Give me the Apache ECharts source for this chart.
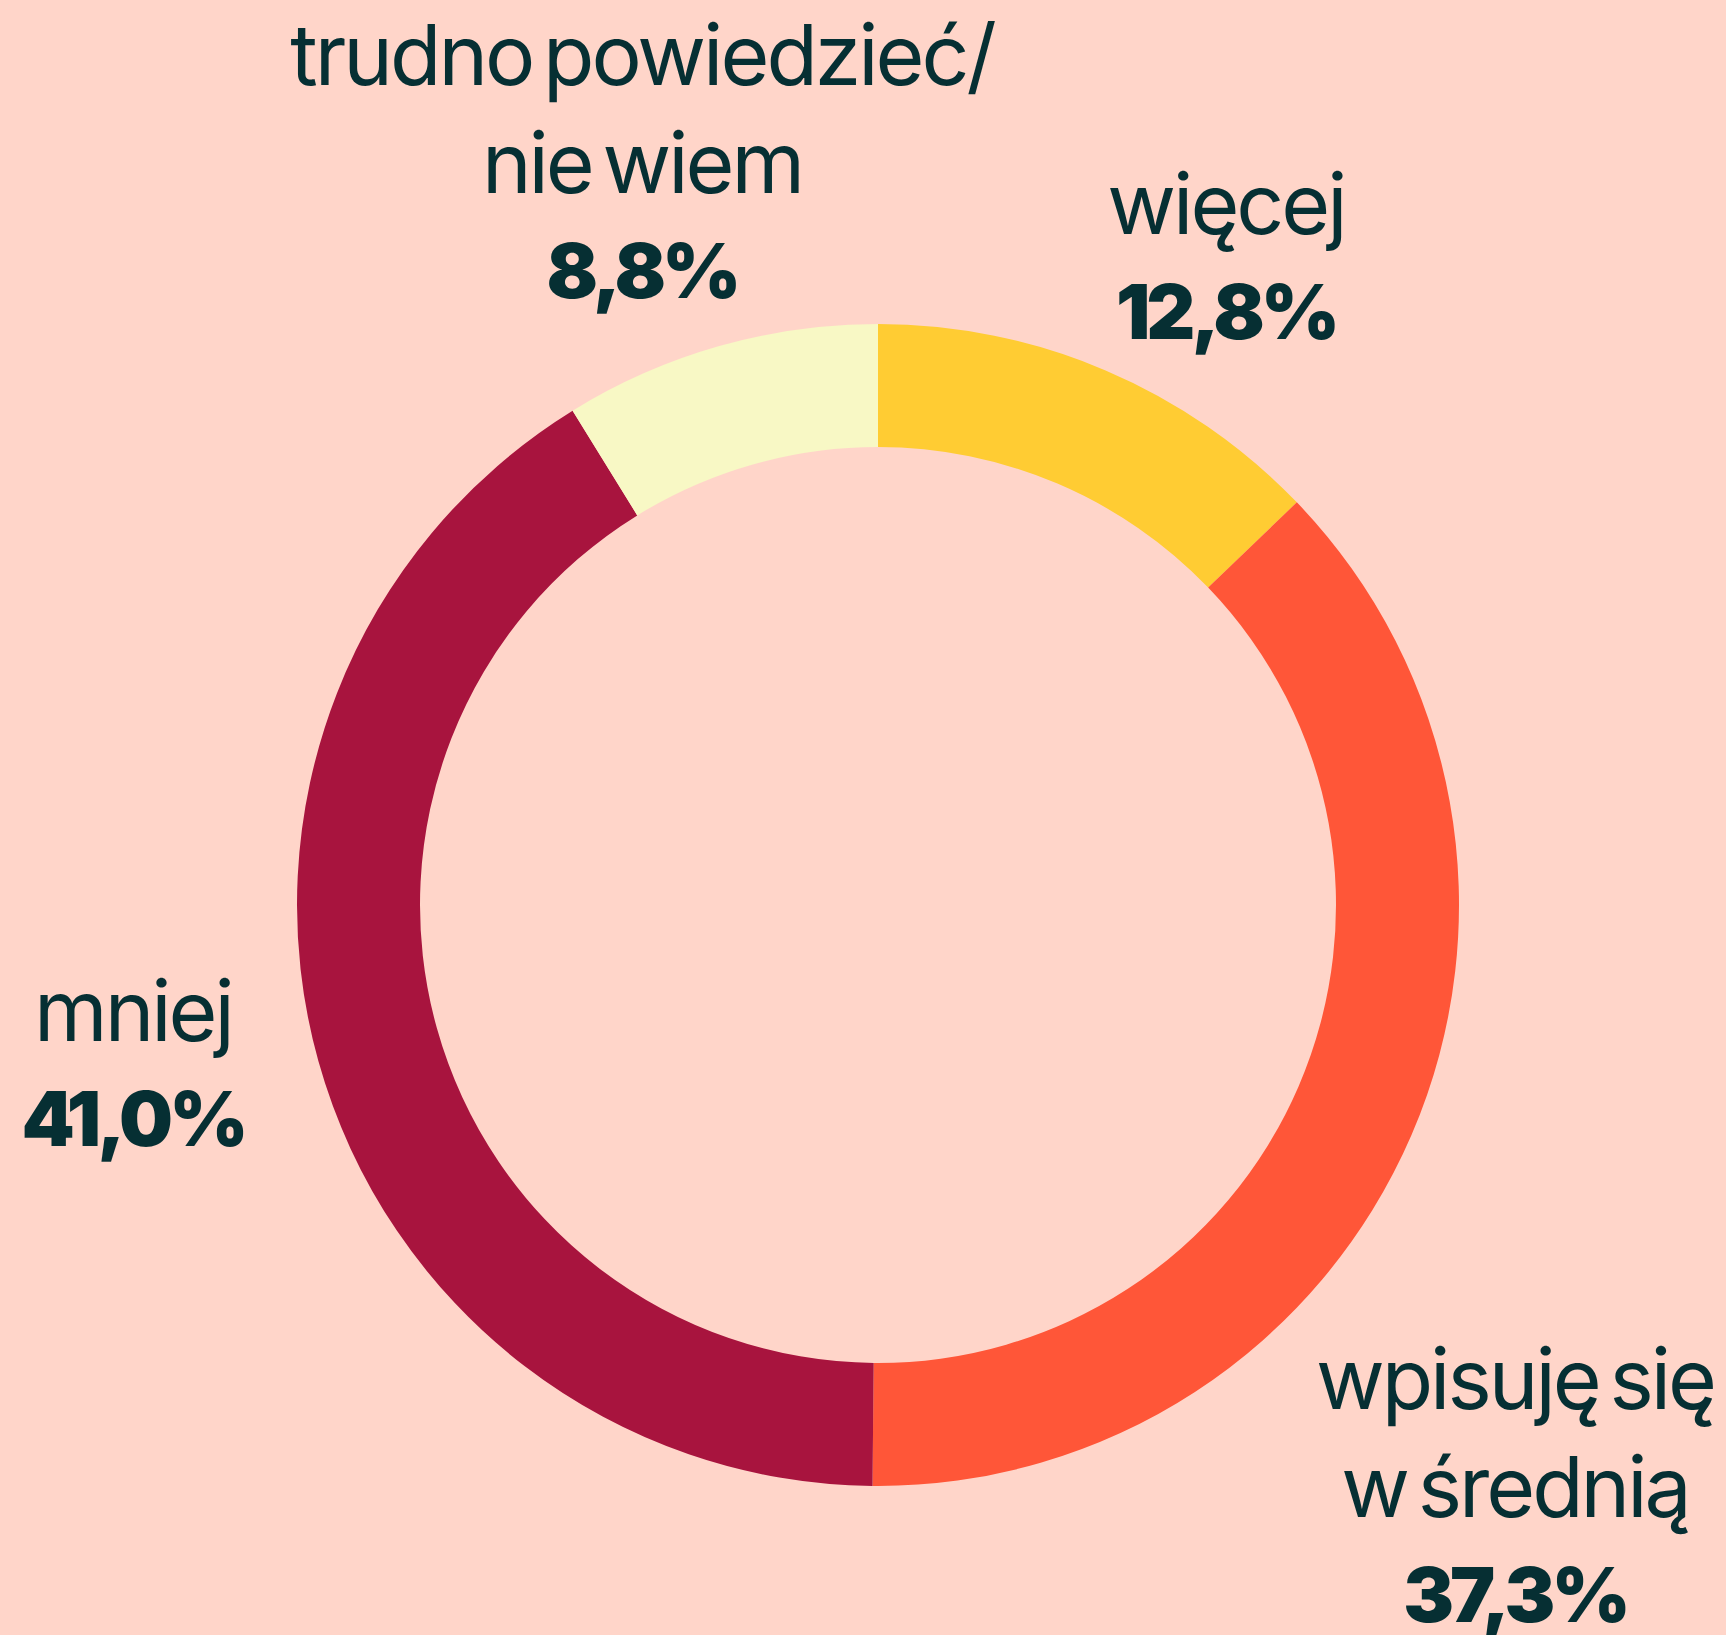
<!DOCTYPE html>
<html>
<head>
<meta charset="utf-8">
<script src="https://cdn.jsdelivr.net/npm/echarts@6/dist/echarts.min.js"></script>
<style>
  html, body { margin: 0; padding: 0; background: #FFD5C9; }
  #chart { width: 1726px; height: 1635px; }
  /* tight tracking for the labels */
  #chart svg text { letter-spacing: -3px; word-spacing: -10px; }
  #chart svg text.pct { letter-spacing: -4px; }
</style>
</head>
<body>
<div id="chart"></div>
<script>
// Answer categories, clockwise from 12 o'clock
const categories = ['więcej', 'wpisuję się\nw średnią', 'mniej', 'trudno powiedzieć/\nnie wiem'];
// Share of respondents, %
const shares = [12.8, 37.3, 41.0, 8.8];
const sliceColors = ['#FFCC33', '#FF5638', '#A8143E', '#F8F8C5'];

// Where each label block sits (centre x, top y)
const labelAnchors = [[1226, 149], [1515, 1324], [133, 956], [642, 0]];

const textColor = '#062F33';

const chart = echarts.init(document.getElementById('chart'), null, { renderer: 'svg' });

chart.setOption({
  backgroundColor: '#FFD5C9',
  animation: false,
  series: [{
    type: 'pie',
    center: [878, 905],
    radius: [458, 581],
    startAngle: 90,
    clockwise: true,
    avoidLabelOverlap: false,
    silent: true,
    data: categories.map((name, i) => ({
      name: name,
      value: shares[i],
      itemStyle: { color: sliceColors[i] }
    })),
    itemStyle: { borderWidth: 0 },
    labelLine: { show: false },
    label: {
      show: true,
      position: 'outside',
      formatter: p => '{n|' + p.name.split('\n').join('}\n{n|') + '}\n{v|' +
        p.value.toFixed(1).replace('.', ',') + '%}',
      rich: {
        n: {
          fontFamily: 'Inter', fontSize: 84, fontWeight: 400,
          color: textColor, lineHeight: 108, align: 'center'
        },
        v: {
          fontFamily: 'Inter', fontSize: 76, fontWeight: 900,
          color: textColor, lineHeight: 108, align: 'center'
        }
      }
    },
    labelLayout: params => {
      const a = labelAnchors[params.dataIndex];
      return { x: a[0], y: a[1], align: 'center', verticalAlign: 'top', hideOverlap: false };
    }
  }]
});

// Mark the bold percentage texts so they get their own tracking
document.querySelectorAll('#chart svg text').forEach(t => {
  if (/%/.test(t.textContent)) t.classList.add('pct');
});
</script>
</body>
</html>
